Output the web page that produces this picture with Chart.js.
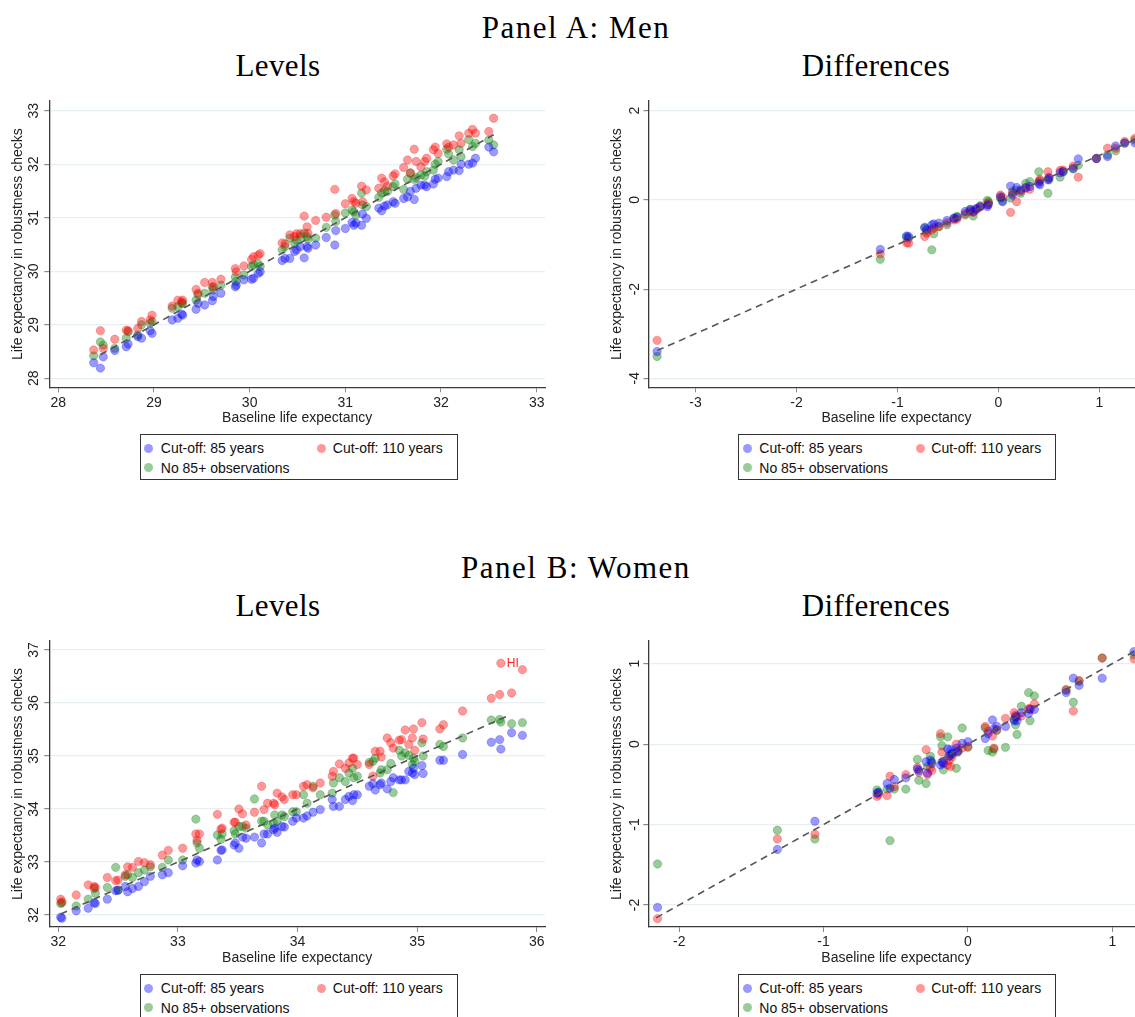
<!DOCTYPE html>
<html lang="en">
<head>
<meta charset="UTF-8">
<title>Life expectancy: robustness checks</title>
<script src="https://cdn.jsdelivr.net/npm/chart.js"></script>
<style>
  html, body { margin: 0; padding: 0; background: #fff; overflow: hidden; width: 1135px; height: 1017px; }
  .title { position: absolute; width: 400px; text-align: center; font-family: "Liberation Serif", "Times New Roman", serif; font-size: 31px; line-height: 36px; color: #000; letter-spacing: 0.4px; }
  .title.panel { letter-spacing: 1.5px; }
  canvas { position: absolute; }
  .legend { position: absolute; width: 318px; height: 46px; border: 1px solid #333; box-sizing: border-box; font-family: "Liberation Sans", Arial, sans-serif; font-size: 14px; color: #111; }
  .legend span { position: absolute; white-space: nowrap; line-height: 16px; }
  .legend i { position: absolute; width: 9px; height: 9px; border-radius: 50%; }
</style>
</head>
<body>
  <div class="title panel" style="left:376px; top:10px">Panel A: Men</div>
  <div class="title" style="left:78px; top:48px">Levels</div>
  <div class="title" style="left:676px; top:48px">Differences</div>
  <div class="title panel" style="left:376px; top:550px">Panel B: Women</div>
  <div class="title" style="left:78px; top:588px">Levels</div>
  <div class="title" style="left:676px; top:588px">Differences</div>

  <canvas id="menLevels" width="560" height="340" style="left:0; top:90px"></canvas>
  <canvas id="menDiff" width="600" height="340" style="left:570px; top:90px"></canvas>
  <canvas id="womenLevels" width="560" height="340" style="left:0; top:630px"></canvas>
  <canvas id="womenDiff" width="600" height="340" style="left:570px; top:630px"></canvas>

  <div id="legends"></div>

<script>
// ---- Panel A: Men, levels ----
const menLevelX = [28.37,28.44,28.47,28.59,28.71,28.73,28.83,28.87,28.96,28.98,29.19,29.25,29.29,29.30,29.44,29.46,29.53,29.61,29.62,29.70,29.85,29.86,29.94,30.02,30.04,30.09,30.11,30.34,30.37,30.42,30.47,30.49,30.53,30.57,30.60,30.61,30.69,30.80,30.89,30.90,31.00,31.07,31.09,31.11,31.17,31.18,31.22,31.35,31.38,31.41,31.44,31.50,31.52,31.61,31.65,31.68,31.72,31.74,31.79,31.83,31.85,31.92,31.94,31.97,32.06,32.08,32.13,32.19,32.21,32.29,32.33,32.36,32.50,32.55];
const menLevel85 = [28.29,28.19,28.40,28.52,28.59,28.64,28.78,28.75,28.89,28.84,29.09,29.12,29.20,29.18,29.29,29.40,29.37,29.45,29.53,29.59,29.71,29.74,29.84,29.85,29.87,29.96,29.99,30.20,30.24,30.24,30.37,30.40,30.46,30.25,30.46,30.43,30.49,30.63,30.49,30.76,30.80,30.91,30.86,30.90,30.86,31.07,30.99,31.18,31.13,31.22,31.24,31.30,31.27,31.36,31.39,31.49,31.34,31.55,31.61,31.61,31.58,31.63,31.72,31.74,31.77,31.86,31.89,31.88,32.00,32.00,32.02,32.11,32.32,32.23];
const menLevel110 = [28.53,28.89,28.56,28.73,28.90,28.89,28.93,29.06,29.09,29.18,29.35,29.46,29.43,29.46,29.66,29.59,29.79,29.79,29.71,29.85,30.05,29.99,30.10,30.22,30.27,30.30,30.33,30.53,30.51,30.68,30.65,30.70,30.70,31.03,30.83,30.71,30.95,31.01,31.53,31.08,31.26,31.36,31.30,31.27,31.59,31.30,31.52,31.55,31.74,31.67,31.59,31.78,31.82,31.94,32.08,31.84,32.28,32.05,31.95,32.05,32.11,32.27,32.32,32.20,32.38,32.32,32.36,32.53,32.39,32.58,32.65,32.58,32.61,32.86];
const menLevelNo85 = [28.42,28.68,28.62,28.56,28.75,28.87,28.81,29.00,29.03,29.06,29.31,29.34,29.40,29.40,29.46,29.56,29.59,29.70,29.65,29.74,29.89,29.81,29.93,30.09,30.12,30.14,30.09,30.40,30.46,30.62,30.52,30.58,30.65,30.71,30.65,30.60,30.62,30.82,31.05,30.93,31.09,31.14,31.11,31.05,31.46,31.24,31.21,31.38,31.46,31.51,31.49,31.58,31.63,31.53,31.72,31.83,31.72,31.75,31.80,31.78,31.86,31.89,32.00,32.05,32.28,32.19,32.08,32.27,32.14,32.46,32.33,32.39,32.45,32.36];
const menLevelLine = [28.44, 32.55];
const menLevelTicksX = [28, 29, 30, 31, 32, 33];
const menLevelTicksY = [28, 29, 30, 31, 32, 33];

// ---- Panel A: Men, differences ----
const menDiffX = [-3.38,-1.17,-0.91,-0.89,-0.73,-0.71,-0.66,-0.64,-0.59,-0.51,-0.44,-0.41,-0.33,-0.28,-0.25,-0.22,-0.18,-0.11,-0.10,0.02,0.04,0.12,0.14,0.18,0.22,0.27,0.31,0.40,0.41,0.49,0.50,0.61,0.64,0.74,0.79,0.97,1.08,1.16,1.25,1.35];
const menDiff85 = [-3.40,-1.11,-0.81,-0.82,-0.63,-0.66,-0.56,-0.54,-0.52,-0.46,-0.41,-0.39,-0.26,-0.22,-0.26,-0.19,-0.15,-0.15,-0.11,0.07,-0.04,0.31,0.11,0.28,0.22,0.28,0.30,0.37,0.34,0.45,0.49,0.61,0.63,0.71,0.92,0.93,0.97,1.21,1.27,1.28];
const menDiff110 = [-3.15,-1.21,-0.96,-0.97,-0.82,-0.75,-0.67,-0.63,-0.60,-0.51,-0.45,-0.43,-0.31,-0.26,-0.28,-0.21,-0.16,-0.11,-0.07,0.11,0.06,-0.28,0.15,-0.04,0.19,0.26,0.24,0.41,0.46,0.63,0.51,0.66,0.67,0.76,0.51,0.93,1.16,1.16,1.31,1.38];
const menDiffNo85 = [-3.51,-1.33,-0.84,-0.86,-0.61,-0.71,-1.12,-0.76,-0.60,-0.56,-0.41,-0.37,-0.34,-0.21,-0.36,-0.22,-0.13,-0.01,-0.04,0.04,-0.02,0.04,0.19,0.22,0.15,0.37,0.41,0.63,0.43,0.15,0.45,0.51,0.63,0.69,0.78,0.93,1.01,1.10,1.28,1.34];
const menDiffLine = [-3.38, 1.45];
const menDiffTicksX = [-3, -2, -1, 0, 1];
const menDiffTicksY = [-4, -2, 0, 2];

// ---- Panel B: Women, levels ----
const womenLevelX = [32.02,32.03,32.15,32.25,32.30,32.31,32.41,32.48,32.50,32.56,32.58,32.62,32.67,32.72,32.77,32.87,32.92,33.04,33.15,33.16,33.18,33.33,33.36,33.37,33.47,33.48,33.51,33.54,33.57,33.64,33.70,33.72,33.75,33.80,33.81,33.83,33.87,33.89,33.96,33.99,34.05,34.08,34.13,34.19,34.29,34.30,34.35,34.40,34.43,34.46,34.47,34.50,34.60,34.63,34.65,34.69,34.70,34.75,34.78,34.80,34.85,34.87,34.90,34.93,34.96,34.97,34.98,35.04,35.05,35.19,35.22,35.38,35.62,35.69,35.70,35.79,35.88];
const womenLevel85 = [31.96,31.94,32.08,32.13,32.23,32.22,32.30,32.46,32.47,32.54,32.44,32.50,32.54,32.63,32.73,32.76,32.80,32.93,32.98,33.04,33.01,33.04,33.22,33.23,33.32,33.36,33.26,33.47,33.45,33.47,33.36,33.53,33.53,33.61,33.64,33.56,33.67,33.66,33.77,33.83,33.83,33.87,33.94,33.99,34.18,34.05,34.05,34.18,34.24,34.16,34.27,34.27,34.43,34.48,34.36,34.46,34.49,34.38,34.52,34.59,34.55,34.55,34.55,34.71,34.68,34.77,34.65,34.82,34.67,34.92,34.92,35.03,35.26,35.31,35.13,35.44,35.39];
const womenLevel110 = [32.30,32.25,32.38,32.57,32.54,32.52,32.71,32.65,32.66,32.76,32.91,32.90,33.01,32.99,32.95,33.13,33.22,33.26,33.53,33.41,33.53,33.90,33.62,33.64,33.75,33.75,34.00,33.91,33.70,33.94,34.43,33.99,34.11,34.11,34.08,34.30,34.23,34.18,34.27,34.27,34.43,34.46,34.40,34.49,34.62,34.71,34.85,34.77,34.87,34.96,34.96,34.84,34.84,34.62,35.09,35.09,34.98,35.34,35.25,35.15,35.30,35.31,35.49,35.22,35.34,35.51,35.11,35.63,35.32,35.51,35.59,35.85,36.09,36.16,36.75,36.19,36.63];
const womenLevelNo85 = [32.22,32.23,32.17,32.30,32.50,32.41,32.52,32.90,32.47,32.73,32.76,32.71,32.80,32.85,32.91,32.90,33.04,33.04,33.81,33.36,33.26,33.51,33.43,33.53,33.59,33.53,33.67,33.67,33.64,34.19,33.77,33.77,33.70,33.73,33.89,33.77,33.89,33.86,33.95,33.95,34.27,34.11,34.43,34.27,34.30,34.49,34.59,34.52,34.68,34.77,34.59,34.62,34.88,34.90,34.96,34.68,34.74,34.74,34.86,34.31,35.11,35.00,35.06,35.01,34.84,34.96,34.90,35.25,35.00,35.22,35.18,35.34,35.68,35.69,35.64,35.61,35.63];
const womenLevelLine = [32.02, 35.77];
const womenLevelTicksX = [32, 33, 34, 35, 36];
const womenLevelTicksY = [32, 33, 34, 35, 36, 37];
const womenLabelText = 'HI';

// ---- Panel B: Women, differences ----
const womenDiffX = [-2.15,-1.32,-1.06,-0.63,-0.62,-0.56,-0.54,-0.51,-0.43,-0.35,-0.34,-0.29,-0.28,-0.26,-0.25,-0.19,-0.18,-0.17,-0.14,-0.13,-0.12,-0.11,-0.08,-0.07,-0.04,0.00,0.12,0.14,0.17,0.18,0.20,0.26,0.32,0.33,0.34,0.37,0.42,0.43,0.46,0.68,0.73,0.77,0.93,1.15];
const womenDiff85 = [-2.03,-1.31,-0.96,-0.61,-0.60,-0.49,-0.55,-0.44,-0.42,-0.31,-0.33,-0.22,-0.36,-0.20,-0.24,-0.26,-0.22,-0.24,-0.06,-0.15,-0.07,-0.11,-0.05,-0.10,0.01,0.03,0.07,0.13,0.30,0.19,0.22,0.22,0.29,0.34,0.29,0.39,0.38,0.43,0.43,0.64,0.82,0.73,0.82,1.15];
const womenDiff110 = [-2.17,-1.18,-1.12,-0.65,-0.63,-0.64,-0.40,-0.53,-0.38,-0.29,-0.35,-0.07,-0.38,-0.30,-0.33,0.13,-0.10,-0.23,-0.26,-0.20,-0.28,-0.16,0.00,-0.08,-0.05,-0.03,0.22,0.16,0.10,-0.05,0.18,0.32,0.39,0.36,0.34,0.35,0.44,0.44,0.50,0.68,0.41,0.79,1.07,1.06];
const womenDiffNo85 = [-1.49,-1.07,-1.18,-0.57,-0.60,-0.56,-1.20,-0.56,-0.56,-0.19,-0.45,-0.49,-0.28,-0.15,-0.22,0.09,-0.02,-0.32,0.09,-0.15,-0.13,-0.13,-0.30,-0.09,0.20,-0.04,0.20,-0.08,-0.10,-0.06,0.17,-0.04,0.31,0.24,0.12,0.47,0.64,0.29,0.60,0.67,0.52,0.78,1.07,1.11];
const womenDiffLine = [-2.16, 1.22];
const womenDiffTicksX = [-2, -1, 0, 1];
const womenDiffTicksY = [-2, -1, 0, 1];

const seriesNames = ['Cut-off: 85 years', 'Cut-off: 110 years', 'No 85+ observations'];
const seriesColors = ['rgba(0,0,255,0.40)', 'rgba(255,0,0,0.40)', 'rgba(0,128,0,0.40)'];
const seriesEdges = ['rgba(0,0,230,0.30)', 'rgba(230,0,0,0.30)', 'rgba(0,110,0,0.30)'];

const AXIS_FONT = { family: '"Liberation Sans", Arial, sans-serif', size: 14 };

function pts(xs, ys) {
  return xs.map((x, i) => ({ x: x, y: ys[i] }));
}

// label next to the highest red point in the women's levels panel
const stateLabel = {
  id: 'stateLabel',
  afterDatasetsDraw(chart, args, opts) {
    if (!opts.text) return;
    const ys = opts.ys;
    const idx = ys.indexOf(Math.max.apply(null, ys));
    const x = chart.scales.x.getPixelForValue(opts.xs[idx]);
    const y = chart.scales.y.getPixelForValue(ys[idx]);
    const ctx = chart.ctx;
    ctx.save();
    ctx.font = '12px "Liberation Sans", Arial, sans-serif';
    ctx.fillStyle = '#ff2020';
    ctx.textAlign = 'left';
    ctx.textBaseline = 'middle';
    ctx.fillText(opts.text, x + 6, y);
    ctx.restore();
  }
};

function makePanel(id, p) {
  const datasets = [
    {
      label: '45 degree line',
      data: [{ x: p.line[0], y: p.line[0] }, { x: p.line[1], y: p.line[1] }],
      showLine: true,
      borderColor: '#555',
      borderWidth: 1.6,
      borderDash: [7, 5],
      pointRadius: 0,
      fill: false
    }
  ];
  p.series.forEach((ys, k) => {
    datasets.push({
      label: seriesNames[k],
      data: pts(p.xs, ys),
      backgroundColor: seriesColors[k],
      borderColor: seriesEdges[k],
      borderWidth: 0.8,
      pointRadius: 4.2
    });
  });

  new Chart(document.getElementById(id), {
    type: 'scatter',
    data: { datasets: datasets },
    plugins: [stateLabel],
    options: {
      responsive: false,
      animation: false,
      events: [],
      layout: { padding: p.pad },
      plugins: {
        legend: { display: false },
        tooltip: { enabled: false },
        stateLabel: p.label || {}
      },
      scales: {
        x: {
          type: 'linear',
          min: p.xRange[0],
          max: p.xRange[1],
          afterBuildTicks: s => { s.ticks = p.ticksX.map(v => ({ value: v })); },
          afterFit: s => { s.height = p.xH; },
          grid: { drawOnChartArea: false, tickLength: 5, tickColor: '#8a8a8a', color: '#8a8a8a' },
          border: { color: '#3a3a3a', width: 1.3 },
          ticks: { font: AXIS_FONT, color: '#222', padding: 2, maxRotation: 0, autoSkip: false, callback: v => String(v) },
          title: { display: true, text: 'Baseline life expectancy', font: AXIS_FONT, color: '#222', padding: { top: 0, bottom: 3.6 } }
        },
        y: {
          type: 'linear',
          min: p.yRange[0],
          max: p.yRange[1],
          afterBuildTicks: s => { s.ticks = p.ticksY.map(v => ({ value: v })); },
          afterFit: s => { s.width = p.yW; },
          grid: { color: '#e6eff1', lineWidth: 1.2, tickLength: 5, tickColor: '#8a8a8a' },
          border: { color: '#3a3a3a', width: 1.3 },
          ticks: { font: AXIS_FONT, color: '#222', padding: 2, minRotation: 90, maxRotation: 90, crossAlign: 'center', autoSkip: false, callback: v => String(v) },
          title: { display: true, text: 'Life expectancy in robustness checks', font: AXIS_FONT, color: '#222', padding: { top: 0, bottom: 0 } }
        }
      }
    }
  });
}

makePanel('menLevels', {
  xs: menLevelX, series: [menLevel85, menLevel110, menLevelNo85], line: menLevelLine,
  ticksX: menLevelTicksX, ticksY: menLevelTicksY,
  xRange: [27.906, 33.087], yRange: [27.832, 33.181],
  pad: { left: 10.2, top: 11, right: 15, bottom: 0 }, yW: 39.1, xH: 42.7
});
makePanel('menDiff', {
  xs: menDiffX, series: [menDiff85, menDiff110, menDiffNo85], line: menDiffLine,
  ticksX: menDiffTicksX, ticksY: menDiffTicksY,
  xRange: [-3.465, 1.446], yRange: [-4.202, 2.218],
  pad: { left: 38.6, top: 11, right: 25.5, bottom: 0 }, yW: 39.9, xH: 42.7
});
makePanel('womenLevels', {
  xs: womenLevelX, series: [womenLevel85, womenLevel110, womenLevelNo85], line: womenLevelLine,
  ticksX: womenLevelTicksX, ticksY: womenLevelTicksY,
  xRange: [31.925, 36.069], yRange: [31.775, 37.17],
  pad: { left: 10.2, top: 11, right: 15, bottom: 0 }, yW: 39.1, xH: 43,
  label: { text: womenLabelText, xs: womenLevelX, ys: womenLevel110 }
});
makePanel('womenDiff', {
  xs: womenDiffX, series: [womenDiff85, womenDiff110, womenDiffNo85], line: womenDiffLine,
  ticksX: womenDiffTicksX, ticksY: womenDiffTicksY,
  xRange: [-2.214, 1.223], yRange: [-2.274, 1.282],
  pad: { left: 38.6, top: 11, right: 25.5, bottom: 0 }, yW: 39.7, xH: 43
});

// legends (same layout under every panel)
const legendSpots = [[139.8, 434], [738.3, 434], [139.8, 974], [738.3, 974]];
const itemSpots = [[3.5, 8.5, 20, 5], [176.5, 8.5, 192, 5], [3.5, 28.2, 20, 24.7]];
const holder = document.getElementById('legends');
legendSpots.forEach(([lx, ly]) => {
  const box = document.createElement('div');
  box.className = 'legend';
  box.style.left = lx + 'px';
  box.style.top = ly + 'px';
  seriesNames.forEach((name, k) => {
    const [mx, my, tx, ty] = itemSpots[k];
    const dot = document.createElement('i');
    dot.style.left = mx + 'px';
    dot.style.top = my + 'px';
    dot.style.background = seriesColors[k];
    box.appendChild(dot);
    const txt = document.createElement('span');
    txt.style.left = tx + 'px';
    txt.style.top = ty + 'px';
    txt.textContent = name;
    box.appendChild(txt);
  });
  holder.appendChild(box);
});
</script>
</body>
</html>
